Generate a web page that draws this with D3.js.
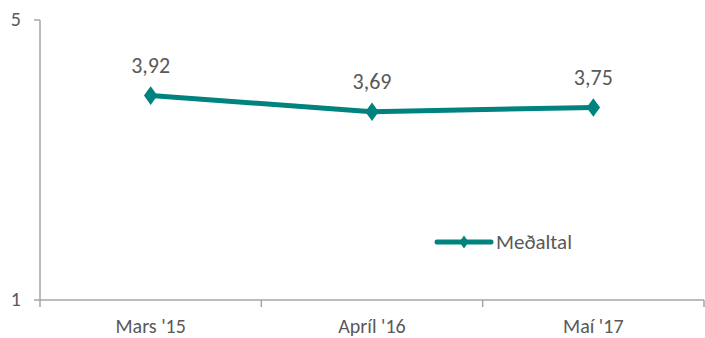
<!DOCTYPE html>
<html><head><meta charset="utf-8">
<script src="https://cdn.jsdelivr.net/npm/d3@7"></script>
<style>body{margin:0;background:#fff}svg{display:block}</style>
</head><body>
<svg id="c" width="705" height="338"></svg>
<script>
const categories = ["Mars '15", "Apríl '16", "Maí '17"];
const values = [3.92, 3.69, 3.75];
const labels = ["3,92", "3,69", "3,75"];
const yTicks = [1, 5];
const seriesName = "Meðaltal";

const svg = d3.select("#c");
const font = "Calibri, Carlito, 'Open Sans', sans-serif";
const color = "#00827F";
const textColor = "#595959";
const axisColor = "#A6A6A6";
const L = 40, R = 704, T = 20, B = 300;

const x = d3.scaleBand().domain(categories).range([L, R]);
const y = d3.scaleLinear().domain([1, 5]).range([B, T]);

// y axis
svg.append("line").attr("x1", L).attr("x2", L).attr("y1", T).attr("y2", B)
  .attr("stroke", axisColor).attr("stroke-width", 1.5);
yTicks.forEach(t => {
  svg.append("line").attr("x1", L - 6).attr("x2", L).attr("y1", y(t)).attr("y2", y(t))
    .attr("stroke", axisColor).attr("stroke-width", 1.5);
  svg.append("text").attr("x", L - 19).attr("y", y(t)).attr("dy", "0.3em")
    .attr("text-anchor", "end").attr("font-family", font).attr("font-size", 20)
    .attr("fill", textColor).text(t);
});

// x axis
svg.append("line").attr("x1", L).attr("x2", R).attr("y1", B).attr("y2", B)
  .attr("stroke", axisColor).attr("stroke-width", 1.5);
const bounds = categories.map(c => x(c)).concat([R]);
bounds.forEach(b => {
  svg.append("line").attr("x1", b).attr("x2", b).attr("y1", B).attr("y2", B + 7)
    .attr("stroke", axisColor).attr("stroke-width", 1.5);
});
categories.forEach(c => {
  svg.append("text").attr("x", x(c) + x.bandwidth() / 2).attr("y", B + 33)
    .attr("text-anchor", "middle").attr("font-family", font).attr("font-size", 20)
    .attr("fill", textColor).text(c);
});

// line
const cx = c => x(c) + x.bandwidth() / 2;
const line = d3.line().x((d, i) => cx(categories[i])).y(d => y(d));
svg.append("path").datum(values).attr("d", line).attr("fill", "none")
  .attr("stroke", color).attr("stroke-width", 5).attr("stroke-linejoin", "round");

const diamond = d3.symbol().type(d3.symbolDiamond).size(100);
values.forEach((v, i) => {
  svg.append("path").attr("d", diamond)
    .attr("transform", `translate(${cx(categories[i])},${y(v)}) scale(1.25,1)`)
    .attr("fill", color);
  svg.append("text").attr("x", cx(categories[i])).attr("y", y(v) - 30)
    .attr("dy", "0.35em").attr("text-anchor", "middle").attr("font-family", font)
    .attr("font-size", 22).attr("fill", textColor).text(labels[i]);
});

// legend
const lx = 437, ly = 242;
svg.append("line").attr("x1", lx).attr("x2", lx + 54).attr("y1", ly).attr("y2", ly)
  .attr("stroke", color).attr("stroke-width", 5).attr("stroke-linecap", "round");
svg.append("path").attr("d", d3.symbol().type(d3.symbolDiamond).size(50))
  .attr("transform", `translate(${lx + 27},${ly}) scale(1.2,1)`).attr("fill", color);
svg.append("text").attr("x", lx + 59).attr("y", ly).attr("dy", "0.35em")
  .attr("font-family", font).attr("font-size", 21).attr("fill", textColor).text(seriesName);
</script>
</body></html>
